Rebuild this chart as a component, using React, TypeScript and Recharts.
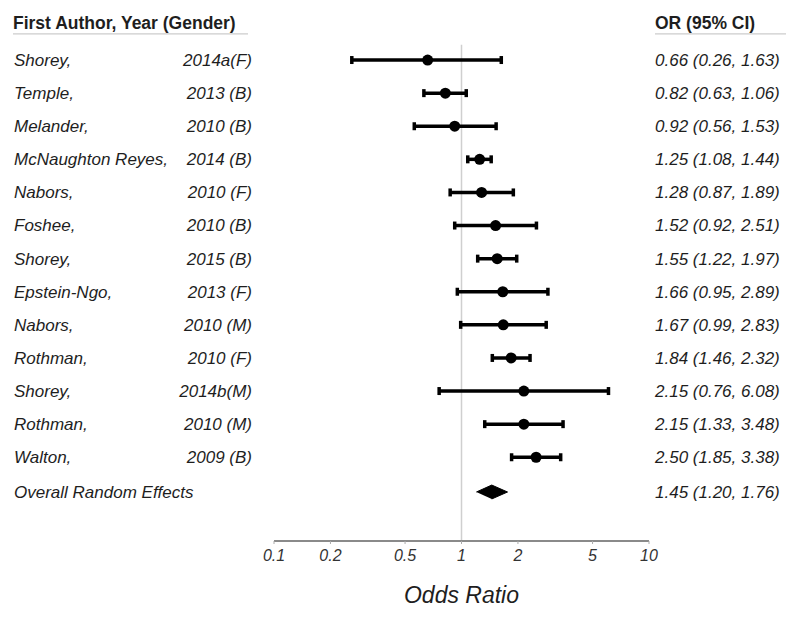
import React from "react";
import {
  ComposedChart,
  ErrorBar,
  ReferenceLine,
  Scatter,
  XAxis,
  YAxis,
} from "recharts";

const authors = [
  "Shorey,",
  "Temple,",
  "Melander,",
  "McNaughton Reyes,",
  "Nabors,",
  "Foshee,",
  "Shorey,",
  "Epstein-Ngo,",
  "Nabors,",
  "Rothman,",
  "Shorey,",
  "Rothman,",
  "Walton,",
];
const years = [
  "2014a(F)",
  "2013 (B)",
  "2010 (B)",
  "2014 (B)",
  "2010 (F)",
  "2010 (B)",
  "2015 (B)",
  "2013 (F)",
  "2010 (M)",
  "2010 (F)",
  "2014b(M)",
  "2010 (M)",
  "2009 (B)",
];
const oddsRatios = [0.66, 0.82, 0.92, 1.25, 1.28, 1.52, 1.55, 1.66, 1.67, 1.84, 2.15, 2.15, 2.5];
const lowerCI = [0.26, 0.63, 0.56, 1.08, 0.87, 0.92, 1.22, 0.95, 0.99, 1.46, 0.76, 1.33, 1.85];
const upperCI = [1.63, 1.06, 1.53, 1.44, 1.89, 2.51, 1.97, 2.89, 2.83, 2.32, 6.08, 3.48, 3.38];

const overallLabel = "Overall Random Effects";
const overallOR = 1.45;
const overallLower = 1.2;
const overallUpper = 1.76;

const xTicks = [0.1, 0.2, 0.5, 1, 2, 5, 10];

const HEADER_ROW = -1.12;
const OVERALL_ROW = 13.05;
const DIAMOND_HALF = 0.21;

const fmt = (v: number) => v.toFixed(2);

const studies = oddsRatios.map((or, i) => ({
  x: or,
  y: i,
  err: [or - lowerCI[i], upperCI[i] - or],
}));

const diamond = [
  { x: overallLower, y: OVERALL_ROW },
  { x: overallOR, y: OVERALL_ROW - DIAMOND_HALF },
  { x: overallUpper, y: OVERALL_ROW },
  { x: overallOR, y: OVERALL_ROW + DIAMOND_HALF },
];

const rowTicks = [HEADER_ROW, ...oddsRatios.map((_, i) => i), OVERALL_ROW];

const FONT = "'Liberation Sans', Arial, sans-serif";
const TEXT = "#1e1e1e";

const RowLabel = ({ y, payload }: any) => {
  const v = payload.value;
  if (v === HEADER_ROW) {
    return (
      <g fontFamily={FONT} fontWeight="bold" fontSize={17.5} fill={TEXT}>
        <text x={13} y={y} dy="0.35em">
          First Author, Year (Gender)
        </text>
        <text x={655} y={y} dy="0.35em">
          OR (95% CI)
        </text>
        <line x1={13} x2={248} y1={y + 11} y2={y + 11} stroke="#ccc" strokeWidth={1.2} />
        <line x1={655} x2={786} y1={y + 11} y2={y + 11} stroke="#ccc" strokeWidth={1.2} />
      </g>
    );
  }
  if (v === OVERALL_ROW) {
    return (
      <g fontFamily={FONT} fontStyle="italic" fontSize={17} fill={TEXT}>
        <text x={14} y={y} dy="0.35em">
          {overallLabel}
        </text>
        <text x={655} y={y} dy="0.35em">
          {`${fmt(overallOR)} (${fmt(overallLower)}, ${fmt(overallUpper)})`}
        </text>
      </g>
    );
  }
  const i = v as number;
  return (
    <g fontFamily={FONT} fontStyle="italic" fontSize={17} fill={TEXT}>
      <text x={14} y={y} dy="0.35em">
        {authors[i]}
      </text>
      <text x={252} y={y} dy="0.35em" textAnchor="end">
        {years[i]}
      </text>
      <text x={655} y={y} dy="0.35em">
        {`${fmt(oddsRatios[i])} (${fmt(lowerCI[i])}, ${fmt(upperCI[i])})`}
      </text>
    </g>
  );
};

const Dot = (props: any) => <circle cx={props.cx} cy={props.cy} r={5.5} fill="#000" />;

export default function App() {
  return (
    <div style={{ position: "absolute", left: 0, top: 0, background: "#fff" }}>
      <ComposedChart
        width={800}
        height={617}
        margin={{ top: 17, right: 151, bottom: 0, left: 273 }}
      >
        <XAxis
          type="number"
          dataKey="x"
          scale="log"
          domain={[0.1, 10]}
          ticks={xTicks}
          allowDataOverflow
          height={76}
          axisLine={{ stroke: "#8a8a8a", strokeWidth: 2 }}
          tickLine={{ stroke: "#aaa", strokeWidth: 1 }}
          tickSize={3}
          tickMargin={6}
          tickFormatter={(v: number) => String(v)}
          tick={{ fill: "#333", fontSize: 16, fontStyle: "italic", fontFamily: FONT }}
          label={{
            value: "Odds Ratio",
            position: "insideBottom",
            offset: 14,
            fill: TEXT,
            fontSize: 23,
            fontStyle: "italic",
            fontFamily: FONT,
          }}
        />
        <YAxis
          type="number"
          dataKey="y"
          reversed
          domain={[-1.3, 14.53]}
          ticks={rowTicks}
          interval={0}
          width={1}
          axisLine={false}
          tickLine={false}
          tick={<RowLabel />}
        />
        <ReferenceLine
          segment={[
            { x: 1, y: -0.46 },
            { x: 1, y: 14.53 },
          ]}
          stroke="#cfcfcf"
          strokeWidth={1.5}
        />
        <Scatter data={studies} shape={<Dot />} fill="#000" isAnimationActive={false}>
          <ErrorBar
            dataKey="err"
            direction="x"
            width={4}
            stroke="#000"
            strokeWidth={3.5}
            isAnimationActive={false}
          />
        </Scatter>
        <Scatter
          data={diamond}
          fill="#000"
          line={{ fill: "#000", stroke: "#000", strokeWidth: 1 }}
          lineType="joint"
          shape={() => <g />}
          isAnimationActive={false}
        />
      </ComposedChart>
    </div>
  );
}
